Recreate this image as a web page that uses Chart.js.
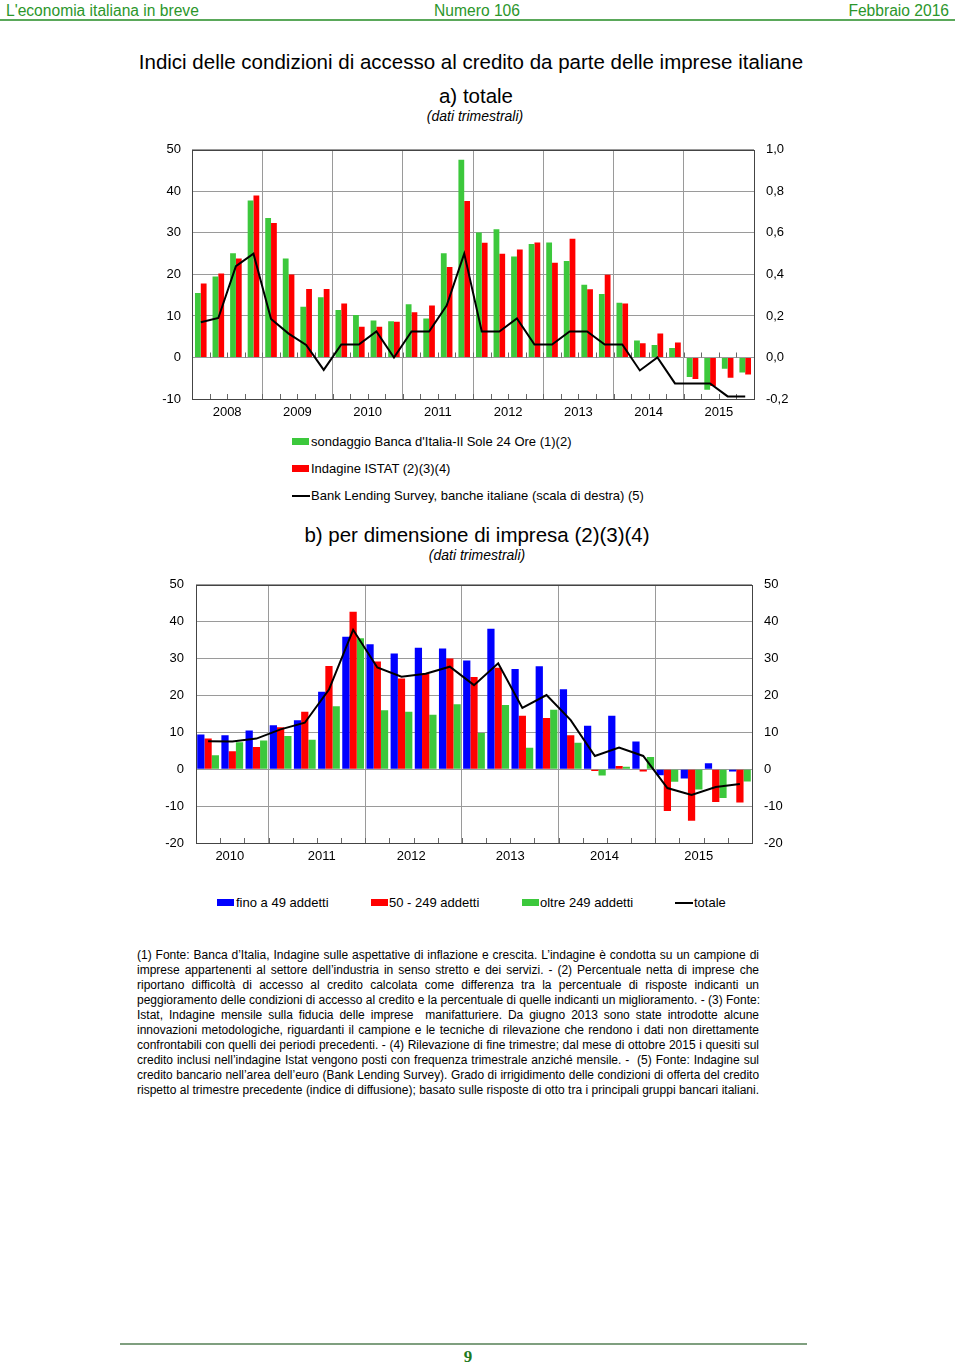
<!DOCTYPE html>
<html><head><meta charset="utf-8">
<script src="https://cdn.jsdelivr.net/npm/chart.js@4.4.1/dist/chart.umd.min.js"></script>
<style>
html,body{margin:0;padding:0;background:#fff;}
body{width:960px;height:1370px;position:relative;font-family:"Liberation Sans",Arial,sans-serif;color:#000;overflow:hidden;}
.abs{position:absolute;white-space:nowrap;}
.hdr{font-family:"Liberation Sans",Arial,sans-serif;font-size:15.6px;color:#2b962b;line-height:20px;top:1px;}
.ctr{text-align:center;}
.ttl{font-size:20.5px;line-height:24px;}
.sub{font-size:14px;font-style:italic;line-height:16px;}
.leg{font-size:13px;line-height:16px;}
.box{position:absolute;width:17px;height:7px;}
.ln{position:absolute;width:18px;height:2px;background:#000;}
#notes{position:absolute;left:137px;top:948px;width:622px;font-size:12px;line-height:15px;}
#notes div{text-align:justify;text-align-last:justify;white-space:nowrap;}
canvas{position:absolute;}
</style>
</head><body>
<div class="abs hdr" style="left:6px;">L'economia italiana in breve</div>
<div class="abs hdr ctr" style="left:377px;width:200px;">Numero 106</div>
<div class="abs hdr" style="right:11px;">Febbraio 2016</div>
<div class="abs" style="left:0;top:19px;width:955px;height:2px;background:#5aa85a;"></div>

<div class="abs ttl ctr" style="left:71px;width:800px;top:50px;">Indici delle condizioni di accesso al credito da parte delle imprese italiane</div>
<div class="abs ttl ctr" style="left:276px;width:400px;top:84px;">a) totale</div>
<div class="abs sub ctr" style="left:275px;width:400px;top:108px;">(dati trimestrali)</div>

<canvas id="ca" width="670" height="299" style="left:140px;top:130px;width:670px;height:299px;"></canvas>

<div class="box" style="left:292px;top:438px;background:#3cc83c;"></div>
<div class="abs leg" style="left:311px;top:434px;">sondaggio Banca d'Italia-Il Sole 24 Ore (1)(2)</div>
<div class="box" style="left:292px;top:465px;background:#ff0000;"></div>
<div class="abs leg" style="left:311px;top:461px;">Indagine ISTAT (2)(3)(4)</div>
<div class="ln" style="left:292px;top:495px;"></div>
<div class="abs leg" style="left:311px;top:488px;">Bank Lending Survey, banche italiane (scala di destra) (5)</div>

<div class="abs ttl ctr" style="left:277px;width:400px;top:523px;">b) per dimensione di impresa (2)(3)(4)</div>
<div class="abs sub ctr" style="left:277px;width:400px;top:547px;">(dati trimestrali)</div>

<canvas id="cb" width="670" height="308" style="left:140px;top:565px;width:670px;height:308px;"></canvas>

<div class="box" style="left:217px;top:899px;background:#0000ff;"></div>
<div class="abs leg" style="left:236px;top:895px;">fino a 49 addetti</div>
<div class="box" style="left:371px;top:899px;background:#ff0000;"></div>
<div class="abs leg" style="left:389px;top:895px;">50 - 249 addetti</div>
<div class="box" style="left:522px;top:899px;background:#3cc83c;"></div>
<div class="abs leg" style="left:540px;top:895px;">oltre 249 addetti</div>
<div class="ln" style="left:675px;top:902px;"></div>
<div class="abs leg" style="left:694px;top:895px;">totale</div>

<div id="notes">
<div>(1) Fonte: Banca d’Italia, Indagine sulle aspettative di inflazione e crescita. L’indagine è condotta su un campione di</div>
<div>imprese appartenenti al settore dell’industria in senso stretto e dei servizi. - (2) Percentuale netta di imprese che</div>
<div>riportano difficoltà di accesso al credito calcolata come differenza tra la percentuale di risposte indicanti un</div>
<div>peggioramento delle condizioni di accesso al credito e la percentuale di quelle indicanti un miglioramento. - (3) Fonte:</div>
<div>Istat, Indagine mensile sulla fiducia delle imprese &nbsp;manifatturiere. Da giugno 2013 sono state introdotte alcune</div>
<div>innovazioni metodologiche, riguardanti il campione e le tecniche di rilevazione che rendono i dati non direttamente</div>
<div>confrontabili con quelli dei periodi precedenti. - (4) Rilevazione di fine trimestre; dal mese di ottobre 2015 i quesiti sul</div>
<div>credito inclusi nell’indagine Istat vengono posti con frequenza trimestrale anziché mensile. - &nbsp;(5) Fonte: Indagine sul</div>
<div style="font-size:11.9px;">credito bancario nell’area dell’euro (Bank Lending Survey). Grado di irrigidimento delle condizioni di offerta del credito</div>
<div>rispetto al trimestre precedente (indice di diffusione); basato sulle risposte di otto tra i principali gruppi bancari italiani.</div>
</div>

<div class="abs" style="left:120px;top:1343px;width:687px;height:2px;background:#7f9f7f;"></div>
<div class="abs ctr" style="left:418px;width:100px;top:1347px;font-family:'Liberation Serif',serif;font-weight:bold;font-size:17px;line-height:20px;color:#1f7a1f;">9</div>

<script>
// ---------- DATA: chart a ----------
const quartersA = [];
for (let y = 2008; y <= 2015; y++) for (let q = 1; q <= 4; q++) quartersA.push(y + 'Q' + q);
const yearLabelsA = ['2008','2009','2010','2011','2012','2013','2014','2015'];
const yearTickPosA = [2, 6, 10, 14, 18, 22, 26, 30];
const sondaggio = [
  15.5, 19.5, 25.1, 37.8,
  33.6, 23.8, 12.2, 14.5,
  11.4, 10.2, 8.9, 8.7,
  12.8, 9.4, 25.1, 47.6,
  30.1, 30.9, 24.3, 27.3,
  27.7, 23.2, 17.5, 15.3,
  13.2, 4.1, 3.0, 2.3,
  -4.7, -7.8, -2.7, -3.6
];
const istat = [
  17.8, 20.2, 23.8, 39.0,
  32.4, 20.0, 16.5, 16.5,
  13.0, 7.4, 7.4, 8.6,
  10.9, 12.5, 21.8, 37.7,
  27.6, 25.0, 26.0, 27.7,
  22.8, 28.6, 16.4, 19.9,
  13.0, 3.4, 5.8, 3.6,
  -5.2, -6.9, -4.9, -4.1
];
const bls = [
  0.17, 0.19, 0.44, 0.50,
  0.185, 0.115, 0.06, -0.06,
  0.0625, 0.0625, 0.125, 0,
  0.125, 0.125, 0.25, 0.50,
  0.125, 0.125, 0.1875, 0.0625,
  0.0625, 0.125, 0.125, 0.0625,
  0.0625, -0.0625, 0, -0.125,
  -0.125, -0.125, -0.1875, -0.1875
];

// ---------- DATA: chart b ----------
const quartersB = [];
for (let y = 2010; y <= 2015; y++) for (let q = 1; q <= 4; q++) if (!(y === 2010 && q === 1)) quartersB.push(y + 'Q' + q);
const yearLabelsB = ['2010','2011','2012','2013','2014','2015'];
const yearTickPosB = [1.4, 5.2, 8.9, 13.0, 16.9, 20.8];
const fino49 = [9.4, 9.2, 10.5, 11.9, 13.3, 21.0, 35.9, 33.9, 31.4, 32.9, 32.7, 29.5, 38.1, 27.2, 27.9, 21.7, 11.8, 14.5, 7.5, -1.6, -2.5, 1.6, -0.6];
const da50a249 = [8.3, 4.9, 6.0, 11.4, 15.6, 28.0, 42.7, 29.2, 24.6, 25.9, 30.0, 25.0, 27.5, 14.5, 13.9, 9.2, -0.5, 0.9, -0.6, -11.3, -14.0, -8.9, -9.0];
const oltre249 = [3.8, 7.3, 7.8, 9.0, 8.0, 17.1, 35.5, 16.0, 15.6, 14.8, 17.6, 9.8, 17.4, 5.8, 16.1, 7.2, -1.7, 0.7, 3.3, -3.4, -5.5, -7.8, -3.3];
const totale = [7.6, 7.5, 8.3, 10.8, 12.6, 21.6, 37.8, 27.6, 25.1, 25.9, 27.8, 22.8, 28.7, 16.6, 20.1, 13.3, 3.6, 5.9, 3.6, -5.1, -7.0, -4.8, -4.0];

// ---------- styling ----------
const GREEN = '#3cc83c', RED = '#ff0000', BLUE = '#0000ff';
const GRID = '#9a9a9a', FRAME = '#444';
const tickFont = {family: '"Liberation Sans", Arial, sans-serif', size: 13};

const framePlugin = {
  id: 'frameAndMinor',
  beforeDatasetsDraw(chart, args, opts) {
    const {ctx, chartArea: a, scales} = chart;
    const xs = scales.x, ys = scales.y;
    const n = xs.getLabels().length;
    ctx.save();
    ctx.strokeStyle = '#666';
    ctx.lineWidth = 1;
    ctx.beginPath();
    for (let i = 1; i < n; i++) {
      const px = Math.round((xs.getPixelForValue(i - 1) + xs.getPixelForValue(i)) / 2) + 0.5;
      ctx.moveTo(px, a.bottom); ctx.lineTo(px, a.bottom - 5);
      if (opts.atZero) {
        const z = Math.round(ys.getPixelForValue(0)) + 0.5;
        ctx.moveTo(px, z); ctx.lineTo(px, z - 5);
      }
    }
    ctx.stroke();
    ctx.restore();
  },
  afterDraw(chart) {
    const {ctx, chartArea: a} = chart;
    ctx.save();
    ctx.strokeStyle = FRAME;
    ctx.lineWidth = 1;
    ctx.strokeRect(Math.round(a.left) + 0.5, Math.round(a.top) + 0.5, Math.round(a.right - a.left), Math.round(a.bottom - a.top));
    ctx.restore();
  }
};

function yearAxis(max, pos, labels) {
  return {
    type: 'linear', position: 'bottom', min: 0, max: max,
    grid: {display: false, drawTicks: false}, border: {display: false},
    ticks: {autoSkip: false, maxRotation: 0, padding: 6, font: tickFont, color: '#000',
      callback: (v, i) => labels[i]},
    afterBuildTicks: s => { s.ticks = pos.map(v => ({value: v})); },
    afterFit: s => { s.height = 30; }
  };
}

// ---------- chart a ----------
new Chart(document.getElementById('ca'), {
  data: {
    labels: quartersA,
    datasets: [
      {type: 'line', label: 'Bank Lending Survey', data: bls, yAxisID: 'y1', borderColor: '#000', borderWidth: 2, pointRadius: 0, tension: 0, order: 0},
      {type: 'bar', label: 'sondaggio', data: sondaggio, backgroundColor: GREEN, yAxisID: 'y', order: 1, barPercentage: 1.0, categoryPercentage: 0.66},
      {type: 'bar', label: 'ISTAT', data: istat, backgroundColor: RED, yAxisID: 'y', order: 1, barPercentage: 1.0, categoryPercentage: 0.66}
    ]
  },
  options: {
    responsive: false, animation: false, devicePixelRatio: 1,
    layout: {padding: {top: 10, bottom: 0, left: 0, right: 0}},
    plugins: {legend: {display: false}, tooltip: {enabled: false}, frameAndMinor: {atZero: true}},
    scales: {
      x: {type: 'category', offset: true,
        grid: {offset: true, drawTicks: false, color: c => (quartersA[c.index] || '').endsWith('Q1') ? GRID : 'rgba(0,0,0,0)'},
        ticks: {display: false}, border: {display: false}},
      xy: yearAxis(quartersA.length, yearTickPosA, yearLabelsA),
      y: {position: 'left', min: -10, max: 50,
        ticks: {stepSize: 10, padding: 11, font: tickFont, color: '#000'},
        grid: {color: GRID, drawTicks: false}, border: {display: false},
        afterFit: s => { s.width = 52; }},
      y1: {position: 'right', min: -0.2, max: 1.0,
        ticks: {stepSize: 0.2, padding: 12, font: tickFont, color: '#000',
          callback: v => (Math.round(v * 10) / 10).toFixed(1).replace('.', ',')},
        grid: {drawOnChartArea: false, drawTicks: false}, border: {display: false},
        afterFit: s => { s.width = 56; }}
    }
  },
  plugins: [framePlugin]
});

// ---------- chart b ----------
new Chart(document.getElementById('cb'), {
  data: {
    labels: quartersB,
    datasets: [
      {type: 'line', label: 'totale', data: totale, yAxisID: 'y', borderColor: '#000', borderWidth: 2, pointRadius: 0, tension: 0, order: 0},
      {type: 'bar', label: 'fino a 49 addetti', data: fino49, backgroundColor: BLUE, yAxisID: 'y', order: 1, barPercentage: 1.0, categoryPercentage: 0.9},
      {type: 'bar', label: '50 - 249 addetti', data: da50a249, backgroundColor: RED, yAxisID: 'y', order: 1, barPercentage: 1.0, categoryPercentage: 0.9},
      {type: 'bar', label: 'oltre 249 addetti', data: oltre249, backgroundColor: GREEN, yAxisID: 'y', order: 1, barPercentage: 1.0, categoryPercentage: 0.9}
    ]
  },
  options: {
    responsive: false, animation: false, devicePixelRatio: 1,
    layout: {padding: {top: 10, bottom: 0, left: 0, right: 0}},
    plugins: {legend: {display: false}, tooltip: {enabled: false}, frameAndMinor: {atZero: false}},
    scales: {
      x: {type: 'category', offset: true,
        grid: {offset: true, drawTicks: false, color: c => (quartersB[c.index] || '').endsWith('Q1') ? GRID : 'rgba(0,0,0,0)'},
        ticks: {display: false}, border: {display: false}},
      xy: yearAxis(quartersB.length, yearTickPosB, yearLabelsB),
      y: {position: 'left', min: -20, max: 50,
        ticks: {stepSize: 10, padding: 12, font: tickFont, color: '#000'},
        grid: {color: GRID, drawTicks: false}, border: {display: false},
        afterFit: s => { s.width = 56; }},
      y1: {position: 'right', min: -20, max: 50,
        ticks: {stepSize: 10, padding: 12, font: tickFont, color: '#000'},
        grid: {drawOnChartArea: false, drawTicks: false}, border: {display: false},
        afterFit: s => { s.width = 58; }}
    }
  },
  plugins: [framePlugin]
});
</script>
</body></html>
